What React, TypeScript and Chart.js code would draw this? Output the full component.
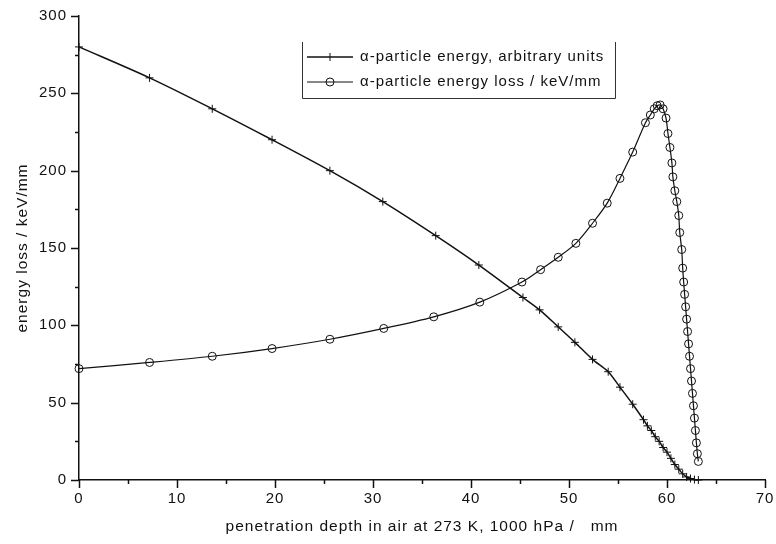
import React, { useEffect, useRef } from "react";
import { Chart, registerables } from "chart.js";

Chart.register(...registerables);

// α-particle energy (arbitrary units) vs penetration depth (mm)
const energyDepth = [0, 7.2, 13.6, 19.7, 25.6, 31.0, 36.4, 40.8, 45.3, 47.0, 48.9, 50.6, 52.4, 54.0, 55.2, 56.5, 57.6, 58.0, 58.4, 58.8, 59.2, 59.6, 60.0, 60.4, 60.8, 61.2, 61.6, 62.0, 62.4, 62.8, 63.2];
const energyValue = [280, 260, 240, 220, 200, 180, 158, 139, 118, 110, 99, 89, 78, 70, 60, 49, 39, 35, 32, 28, 25, 21, 18, 14, 10, 7, 4, 2, 1, 0.3, 0];

// α-particle energy loss (keV/mm) vs penetration depth (mm)
const lossDepth = [0, 7.2, 13.6, 19.7, 25.6, 31.1, 36.2, 40.9, 45.2, 47.1, 48.9, 50.7, 52.4, 53.9, 55.2, 56.5, 57.8, 58.3, 58.7, 59.0, 59.3, 59.6, 59.9, 60.1, 60.3, 60.5, 60.6, 60.8, 61.0, 61.2, 61.3, 61.5, 61.6, 61.7, 61.8, 61.9, 62.0, 62.1, 62.2, 62.3, 62.4, 62.5, 62.6, 62.7, 62.8, 62.9, 63.0, 63.1, 63.2];
const lossValue = [72, 76, 80, 85, 91, 98, 105.5, 115, 128, 136, 144, 153, 166, 179, 195, 212, 231, 236, 240, 242, 242.5, 240, 234, 224, 215, 205, 196, 187, 180, 171, 160, 149, 137, 128, 120, 112, 104, 96, 88, 80, 72, 64, 56, 48, 40, 32, 24, 17, 12];

const seriesNames = ["\u03b1-particle energy, arbitrary units", "\u03b1-particle energy loss / keV/mm"];
const xTitle = "penetration depth in air at 273 K, 1000 hPa /   mm";
const yTitle = "energy loss / keV/mm";

const FONT = "'Liberation Sans', Arial, Helvetica, sans-serif";
const INK = "#111111";
const SPACING = "1px";

const spacingPlugin = {
  id: "letterSpacing",
  beforeUpdate(chart: any) {
    chart.ctx.letterSpacing = SPACING;
  },
  beforeDraw(chart: any) {
    chart.ctx.letterSpacing = SPACING;
  },
};

const tickPlugin = {
  id: "customTicks",
  afterDraw(chart: any) {
    const ctx = chart.ctx;
    const xs = chart.scales.x;
    const ys = chart.scales.y;
    ctx.save();
    ctx.strokeStyle = INK;
    ctx.lineWidth = 1.5;
    for (let v = 0; v <= 70; v += 5) {
      const px = Math.round(xs.getPixelForValue(v)) + 0.5;
      const len = v % 10 === 0 ? 8 : 4;
      ctx.beginPath();
      ctx.moveTo(px, xs.top);
      ctx.lineTo(px, xs.top + len);
      ctx.stroke();
    }
    for (let v = 0; v <= 300; v += 25) {
      const py = Math.round(ys.getPixelForValue(v)) + 0.5;
      const len = v % 50 === 0 ? 8 : 4;
      ctx.beginPath();
      ctx.moveTo(ys.right, py);
      ctx.lineTo(ys.right - len, py);
      ctx.stroke();
    }
    // legend
    const bx0 = 302.5, bx1 = 615.5, by0 = 42, by1 = 98.5;
    ctx.lineWidth = 1;
    ctx.strokeStyle = "#333";
    ctx.beginPath();
    ctx.moveTo(bx0, by0);
    ctx.lineTo(bx0, by1);
    ctx.lineTo(bx1, by1);
    ctx.lineTo(bx1, by0);
    ctx.stroke();
    const rows = [57, 82];
    chart.data.datasets.forEach((ds: any, i: number) => {
      const y = rows[i];
      ctx.strokeStyle = INK;
      ctx.lineWidth = ds.borderWidth;
      ctx.beginPath();
      ctx.moveTo(307, y);
      ctx.lineTo(353, y);
      ctx.stroke();
      ctx.lineWidth = 1;
      if (i === 0) {
        ctx.beginPath();
        ctx.moveTo(330, y - 4);
        ctx.lineTo(330, y + 4);
        ctx.stroke();
      } else {
        ctx.beginPath();
        ctx.arc(330, y, 4, 0, Math.PI * 2);
        ctx.stroke();
      }
      ctx.fillStyle = INK;
      ctx.font = `15px ${FONT}`;
      ctx.textBaseline = "middle";
      ctx.textAlign = "left";
      ctx.fillText(ds.label, 360, y);
    });
    ctx.restore();
  },
};

export default function App() {
  const ref = useRef<HTMLCanvasElement | null>(null);
  useEffect(() => {
    if (!ref.current) return;
    const chart = new Chart(ref.current, {
      type: "line",
      data: {
        datasets: [
          {
            label: seriesNames[0],
            data: energyDepth.map((x, i) => ({ x, y: energyValue[i] })),
            borderColor: INK,
            backgroundColor: INK,
            borderWidth: 1.5,
            pointStyle: "cross",
            pointRadius: 4,
            pointBorderWidth: 1,
            pointBorderColor: INK,
            tension: 0.3,
            clip: false as any,
          },
          {
            label: seriesNames[1],
            data: lossDepth.map((x, i) => ({ x, y: lossValue[i] })),
            borderColor: INK,
            backgroundColor: "rgba(0,0,0,0)",
            borderWidth: 1.2,
            pointStyle: "circle",
            pointRadius: 4,
            pointBorderWidth: 1,
            pointBorderColor: INK,
            pointBackgroundColor: "rgba(0,0,0,0)",
            tension: 0.3,
            clip: false as any,
          },
        ],
      },
      options: {
        animation: false,
        responsive: false,
        devicePixelRatio: 1,
        layout: { padding: { top: 16, right: 11, left: 0, bottom: 0 } },
        plugins: { legend: { display: false }, tooltip: { enabled: false } },
        scales: {
          x: {
            type: "linear",
            min: 0,
            max: 70,
            grid: { display: false, drawTicks: false },
            border: { display: true, color: INK, width: 1.5 },
            ticks: { stepSize: 10, padding: 10, color: INK, font: { family: FONT, size: 15 }, maxRotation: 0 },
            title: { display: true, text: xTitle, color: INK, font: { family: FONT, size: 15.5 }, padding: { top: 0, bottom: 8 } },
            afterFit: (s: any) => { s.height = 64; s.paddingRight = 0; s.paddingLeft = 0; },
          },
          y: {
            type: "linear",
            min: 0,
            max: 300,
            grid: { display: false, drawTicks: false },
            border: { display: true, color: INK, width: 1.5 },
            ticks: { stepSize: 50, padding: 12, color: INK, font: { family: FONT, size: 15 } },
            title: { display: true, text: yTitle, color: INK, font: { family: FONT, size: 15.5 }, padding: { top: 13, bottom: 0 } },
            afterFit: (s: any) => { s.width = 79; s.paddingTop = 0; s.paddingBottom = 0; },
          },
        },
      },
      plugins: [spacingPlugin, tickPlugin],
    });
    return () => chart.destroy();
  }, []);
  return (
    <div style={{ position: "absolute", left: 0, top: 0, width: 776, height: 544, background: "#fff" }}>
      <canvas ref={ref} width={776} height={544} />
    </div>
  );
}
